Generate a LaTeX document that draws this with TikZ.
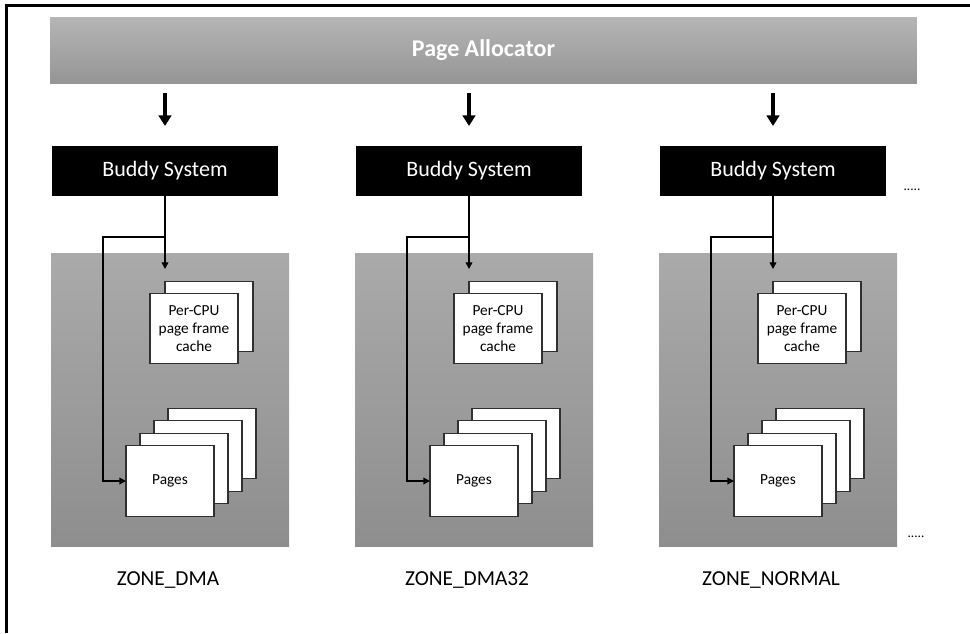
\documentclass[tikz,border=0pt]{standalone}
\usepackage{fontspec}
\setmainfont{Carlito}
\usetikzlibrary{arrows.meta}
\definecolor{barTop}{HTML}{B5B5B5}
\definecolor{barBot}{HTML}{959595}
\definecolor{zoneTop}{HTML}{AAAAAA}
\definecolor{zoneBot}{HTML}{8E8E8E}
\definecolor{edgeGray}{HTML}{303030}
\begin{document}
\begin{tikzpicture}[x=0.75pt,y=-0.75pt,inner sep=0pt,outer sep=0pt,
allocbar/.style={rectangle,minimum width=650pt,minimum height=49.5pt,top color=barTop,bottom color=barBot,text=white,font=\fontsize{18}{20}\selectfont\bfseries},
buddy/.style={rectangle,fill=black,minimum width=169.5pt,minimum height=37.5pt,text=white,font=\fontsize{16.5}{18}\selectfont},
zone/.style={rectangle,minimum width=178.5pt,minimum height=219.75pt,top color=zoneTop,bottom color=zoneBot},
frame/.style={draw=edgeGray,fill=white,rectangle,minimum width=66pt,minimum height=53pt,line width=0.8pt,align=center,font=\fontsize{11.5}{13.5}\selectfont},
bigarrow/.style={-{Triangle[length=8pt,width=9.5pt]},line width=3pt},
link/.style={-{Triangle[length=5pt,width=5pt]},line width=1.1pt},
zonelabel/.style={font=\fontsize{16}{18}\selectfont}]

\useasboundingbox (0,0) rectangle (970,633);
\draw[line width=2.25pt] (6,633) -- (6,5) -- (970,5);

\draw (483.5,50) node[allocbar] (pa) {Page Allocator};

\draw (165,171) node[buddy] (bs1) {Buddy System};
\draw (469,171) node[buddy] (bs2) {Buddy System};
\draw (773,171) node[buddy] (bs3) {Buddy System};
\draw (912,190) node[font=\normalsize] (dot1) {.....};

\draw[bigarrow] (pa.south -| bs1.north) ++(0,10) -- ([yshift=15pt]bs1.north);
\draw[bigarrow] (pa.south -| bs2.north) ++(0,10) -- ([yshift=15pt]bs2.north);
\draw[bigarrow] (pa.south -| bs3.north) ++(0,10) -- ([yshift=15pt]bs3.north);

% ZONE_DMA
\draw (170,399.5) node[zone] (zn1) {};
\draw (209,316.5) node[frame] (pc1b) {};
\draw (194,328.5) node[frame] (pc1) {Per-CPU\\page frame\\cache};
\draw (212,443.5) node[frame] (pg1d) {};
\draw (198,456) node[frame] (pg1c) {};
\draw (184,468.5) node[frame] (pg1b) {};
\draw (170,481) node[frame] (pg1) {Pages};
\draw[link] (bs1.south) -- ++(0,73) coordinate (c1);
\draw[link] (bs1.south) ++(0,41) coordinate (j1) -- ++(-62,0) |- (pg1.west);
\draw (168,580) node[zonelabel] (lbl1) {ZONE\_DMA};

% ZONE_DMA32
\draw (474,399.5) node[zone] (zn2) {};
\draw (513,316.5) node[frame] (pc2b) {};
\draw (498,328.5) node[frame] (pc2) {Per-CPU\\page frame\\cache};
\draw (516,443.5) node[frame] (pg2d) {};
\draw (502,456) node[frame] (pg2c) {};
\draw (488,468.5) node[frame] (pg2b) {};
\draw (474,481) node[frame] (pg2) {Pages};
\draw[link] (bs2.south) -- ++(0,73) coordinate (c2);
\draw[link] (bs2.south) ++(0,41) coordinate (j2) -- ++(-62,0) |- (pg2.west);
\draw (467,580) node[zonelabel] (lbl2) {ZONE\_DMA32};

% ZONE_NORMAL
\draw (778,399.5) node[zone] (zn3) {};
\draw (817,316.5) node[frame] (pc3b) {};
\draw (802,328.5) node[frame] (pc3) {Per-CPU\\page frame\\cache};
\draw (820,443.5) node[frame] (pg3d) {};
\draw (806,456) node[frame] (pg3c) {};
\draw (792,468.5) node[frame] (pg3b) {};
\draw (778,481) node[frame] (pg3) {Pages};
\draw[link] (bs3.south) -- ++(0,73) coordinate (c3);
\draw[link] (bs3.south) ++(0,41) coordinate (j3) -- ++(-62,0) |- (pg3.west);
\draw (771,580) node[zonelabel] (lbl3) {ZONE\_NORMAL};
\draw (916,537) node[font=\normalsize] (dot2) {.....};
\end{tikzpicture}
\end{document}
